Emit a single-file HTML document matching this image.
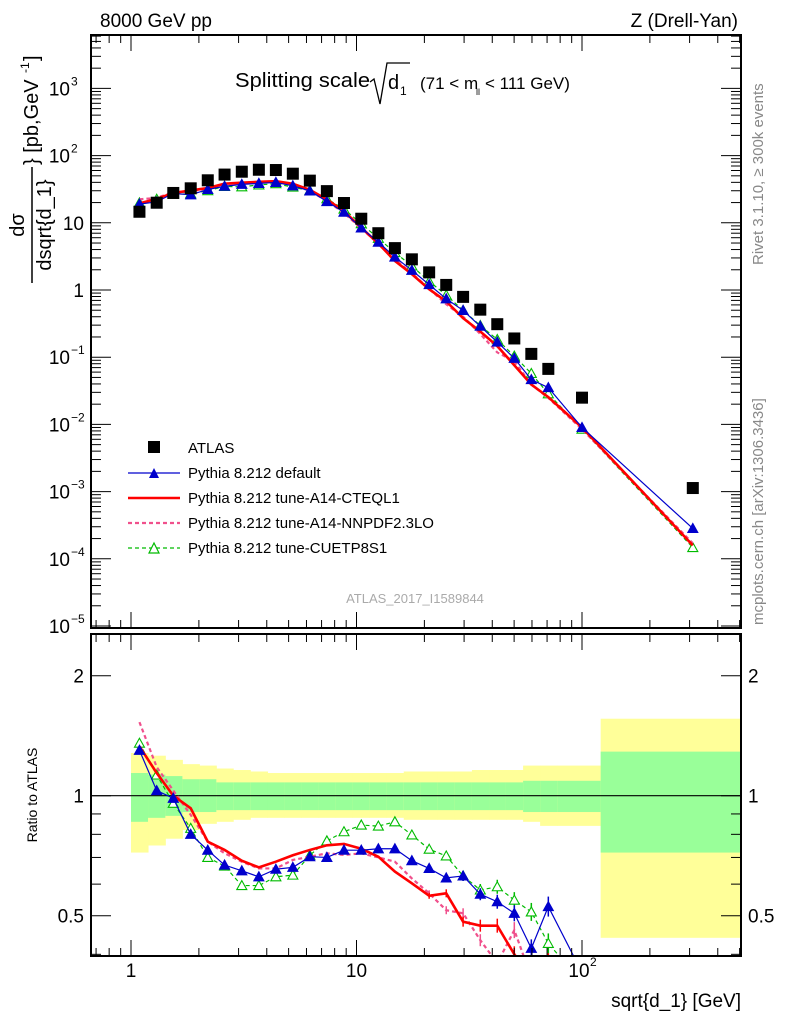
<!DOCTYPE html>
<html><head><meta charset="utf-8"><style>
html,body{margin:0;padding:0;background:#fff;overflow:hidden;width:786px;height:1024px;}
svg{display:block;font-family:"Liberation Sans","DejaVu Sans",sans-serif;overflow:hidden;}
</style></head><body>
<svg id="c" width="786" height="1024" viewBox="0 0 786 1024" xmlns="http://www.w3.org/2000/svg">
<text x="100" y="27" font-size="19">8000 GeV pp</text>
<text x="738" y="27" font-size="19" text-anchor="end">Z (Drell-Yan)</text>
<text transform="translate(763,265) rotate(-90)" font-size="15" fill="#888">Rivet 3.1.10, ≥ 300k events</text>
<text transform="translate(763,625) rotate(-90)" font-size="15" fill="#888">mcplots.cern.ch [arXiv:1306.3436]</text>
<g>
<text x="235" y="87" font-size="20" textLength="135" lengthAdjust="spacingAndGlyphs">Splitting scale</text>
<path d="M370,82 L374,79 L380,104 L387,63 L410,63" fill="none" stroke="#000" stroke-width="1.3"/>
<text x="388" y="89" font-size="20">d</text><text x="400" y="95" font-size="12">1</text>
<text x="420" y="89" font-size="17">(71 &lt; m</text><text x="476" y="95" font-size="9">ll</text><text x="485" y="89" font-size="17">&lt; 111 GeV)</text>
</g>
<g transform="translate(32,225) rotate(-90)">
<text x="0" y="-8" font-size="20" text-anchor="middle">dσ</text>
<line x1="-58" y1="0" x2="58" y2="0" stroke="#000" stroke-width="1.5"/>
<text x="0" y="19" font-size="20" text-anchor="middle">dsqrt{d_1}</text>
<text x="60" y="6" font-size="20">} [pb,GeV</text><text x="152" y="-3" font-size="12">-1</text><text x="164" y="6" font-size="20">]</text>
</g>
<text transform="translate(37,795) rotate(-90)" font-size="14" text-anchor="middle">Ratio to ATLAS</text>
<text x="741" y="1007" font-size="19" text-anchor="end">sqrt{d_1} [GeV]</text>
<text x="415" y="603" font-size="13" fill="#aaa" text-anchor="middle">ATLAS_2017_I1589844</text>
<g id="gU"></g><g id="gL"></g><g id="gAx"></g>
<g>
<rect x="148" y="441" width="12" height="12" fill="#000"/>
<text x="188" y="453" font-size="15">ATLAS</text>
<line x1="128" y1="473" x2="180" y2="473" stroke="#00c" stroke-width="1.2"/><path d="M149,478 L154,468 L159,478Z" fill="#00c"/>
<text x="188" y="478" font-size="15">Pythia 8.212 default</text>
<line x1="128" y1="498" x2="180" y2="498" stroke="#f00" stroke-width="2.6"/>
<text x="188" y="503" font-size="15">Pythia 8.212 tune-A14-CTEQL1</text>
<line x1="128" y1="523" x2="180" y2="523" stroke="#f0508c" stroke-width="2.2" stroke-dasharray="4,3"/>
<text x="188" y="528" font-size="15">Pythia 8.212 tune-A14-NNPDF2.3LO</text>
<line x1="128" y1="548" x2="180" y2="548" stroke="#0b0" stroke-width="1.2" stroke-dasharray="4,3"/><path d="M149,553 L154,543 L159,553Z" fill="#fff" stroke="#0b0" stroke-width="1.2"/>
<text x="188" y="553" font-size="15">Pythia 8.212 tune-CUETP8S1</text>
</g>
</svg>
<script>
const xPts=[1.09,1.30,1.54,1.84,2.19,2.60,3.10,3.69,4.39,5.22,6.21,7.39,8.80,10.5,12.5,14.8,17.6,21.0,25.0,29.7,35.4,42.1,50.1,59.6,70.9,100,310];
const binEdges=[1,1.19,1.42,1.69,2.01,2.39,2.84,3.38,4.03,4.79,5.70,6.79,8.08,9.61,11.4,13.6,16.2,19.3,22.9,27.3,32.5,38.7,46.0,54.8,65.2,77.6,121,600];
const atlas=[14.6,19.9,27.8,32.6,42.9,52.2,57.6,61.6,61,53.8,42.4,29.6,19.7,11.5,7.0,4.2,2.86,1.83,1.19,0.79,0.51,0.31,0.19,0.112,0.067,0.025,0.00113];
const ratioDefault=[1.30,1.03,0.985,0.80,0.73,0.67,0.648,0.626,0.654,0.661,0.703,0.70,0.73,0.73,0.736,0.736,0.687,0.657,0.622,0.629,0.566,0.542,0.507,0.414,0.527,0.36,0.25];
const ratioCteq=[1.33,1.14,1.0,0.93,0.767,0.731,0.687,0.661,0.683,0.709,0.731,0.751,0.757,0.736,0.703,0.645,0.603,0.561,0.569,0.483,0.472,0.472,0.40,0.35,0.38,0.36,0.14];
const ratioNnpdf=[1.53,1.18,1.03,0.895,0.767,0.717,0.683,0.657,0.657,0.69,0.703,0.717,0.71,0.717,0.70,0.683,0.62,0.569,0.516,0.507,0.434,0.38,0.46,0.35,0.37,0.34,0.15];
const ratioCuetp=[1.354,1.127,0.957,0.828,0.70,0.666,0.595,0.595,0.626,0.632,0.709,0.77,0.812,0.844,0.839,0.86,0.797,0.734,0.706,0.629,0.58,0.591,0.547,0.511,0.426,0.34,0.13];
const yellowHi=[1.28,1.26,1.23,1.20,1.19,1.17,1.16,1.15,1.14,1.14,1.14,1.14,1.14,1.14,1.14,1.14,1.15,1.15,1.15,1.15,1.16,1.16,1.16,1.19,1.19,1.19,1.56];
const yellowLo=[0.72,0.75,0.78,0.82,0.85,0.86,0.87,0.88,0.88,0.88,0.88,0.88,0.88,0.88,0.88,0.88,0.87,0.87,0.87,0.87,0.87,0.87,0.87,0.86,0.84,0.84,0.44];
const greenHi=[1.14,1.13,1.12,1.10,1.10,1.08,1.08,1.08,1.08,1.08,1.08,1.08,1.08,1.08,1.08,1.08,1.08,1.08,1.08,1.08,1.08,1.08,1.08,1.09,1.09,1.09,1.29];
const greenLo=[0.86,0.88,0.89,0.91,0.91,0.92,0.92,0.92,0.92,0.92,0.92,0.92,0.92,0.92,0.92,0.92,0.92,0.92,0.92,0.92,0.92,0.92,0.92,0.91,0.91,0.91,0.72];
const NS='http://www.w3.org/2000/svg';
const L=91,R=741,UT=35,UB=628,LT=634,LB=956;
const X=v=>131+225.5*Math.log10(v);
const YU=v=>290-67.2*Math.log10(v);
const YL=v=>795.7-398.6*Math.log10(v);
function mk(p,tag,a){const e=document.createElementNS(NS,tag);for(const k in a)e.setAttribute(k,a[k]);p.appendChild(e);return e;}
const gU=document.getElementById('gU'),gL=document.getElementById('gL'),gA=document.getElementById('gAx');
const defs=mk(document.getElementById('c'),'defs',{});
const cu=mk(defs,'clipPath',{id:'cu'});mk(cu,'rect',{x:L,y:UT,width:R-L,height:UB-UT});
const cl=mk(defs,'clipPath',{id:'cl'});mk(cl,'rect',{x:L,y:LT,width:R-L,height:LB-LT});
gU.setAttribute('clip-path','url(#cu)');gL.setAttribute('clip-path','url(#cl)');
for(let i=0;i<yellowHi.length;i++){
 const x0=X(binEdges[i]),x1=Math.min(X(binEdges[i+1]),R);
 const y=mk(gL,'rect',{x:x0,y:YL(yellowHi[i]),width:x1-x0+0.5,height:YL(yellowLo[i])-YL(yellowHi[i]),fill:'#ffff99'});
 
 
 const g=mk(gL,'rect',{x:x0,y:YL(greenHi[i]),width:x1-x0+0.5,height:YL(greenLo[i])-YL(greenHi[i]),fill:'#99ff99'});
 
 
}
mk(gL,'line',{x1:L,x2:R,y1:YL(1),y2:YL(1),stroke:'#000','stroke-width':1.2});
const series=[
 {r:ratioCuetp,c:'#0b0',w:1.2,d:'4,3',m:'open',n:'cuetp8s1'},
 {r:ratioNnpdf,c:'#f0508c',w:2.2,d:'4,3',m:'none',n:'a14-nnpdf'},
 {r:ratioCteq,c:'#f00',w:2.6,d:'',m:'none',n:'a14-cteql1'},
 {r:ratioDefault,c:'#00c',w:1.2,d:'',m:'fill',n:'default'}];
function tri(p,x,y,s){return mk(p,'path',{d:`M${x-5},${y+4}L${x},${y-5}L${x+5},${y+4}Z`,fill:s.m=='fill'?s.c:'#fff',stroke:s.c,'stroke-width':1.1});}
for(const s of series){
 const up=xPts.map((x,i)=>[X(x),YU(atlas[i]*s.r[i])]);
 const lo=xPts.map((x,i)=>[X(x),YL(s.r[i])]);
 const a={fill:'none',stroke:s.c,'stroke-width':s.w};if(s.d)a['stroke-dasharray']=s.d;
 const pu=mk(gU,'polyline',Object.assign({points:up.map(p=>p.join(',')).join(' ')},a));
 
 
 const pl=mk(gL,'polyline',Object.assign({points:lo.map(p=>p.join(',')).join(' ')},a));
 
 
 lo.forEach((p,i)=>{if(i>=17&&i<25){mk(gL,'line',{x1:p[0],x2:p[0],y1:p[1]-(i-14),y2:p[1]+(i-14),stroke:s.c,'stroke-width':1.5});}});
 if(s.m!='none'){up.forEach(p=>{const t=tri(gU,p[0],p[1],s);});
  lo.forEach(p=>{const t=tri(gL,p[0],p[1],s);});}
}
xPts.forEach((x,i)=>{const r=mk(gU,'rect',{x:X(x)-6,y:YU(atlas[i])-6,width:12,height:12,fill:'#000'});
 
 });
for(const [t,b] of [[UT,UB],[LT,LB]]) mk(gA,'rect',{x:L,y:t,width:R-L,height:b-t,fill:'none',stroke:'#000','stroke-width':2});
const xt=[0.7,0.8,0.9];for(let d=0;d<=2;d++)for(let k=1;k<10;k++)xt.push(k*Math.pow(10,d));
for(const v of xt){const xx=X(v);if(xx<L||xx>R)continue;const len=(Math.abs(Math.log10(v)%1)<1e-9)?16:8;
 for(const [t,b] of [[UT,UB],[LT,LB]]){mk(gA,'line',{x1:xx,x2:xx,y1:t,y2:t+len,stroke:'#000','stroke-width':1});mk(gA,'line',{x1:xx,x2:xx,y1:b,y2:b-len,stroke:'#000','stroke-width':1});}}
const xl=mk(gA,'text',{x:X(1),y:977,'font-size':19,'text-anchor':'middle'});xl.textContent='1';
const xl2=mk(gA,'text',{x:X(10),y:977,'font-size':19,'text-anchor':'middle'});xl2.textContent='10';
const xl3=mk(gA,'text',{x:X(100)-3,y:977,'font-size':19,'text-anchor':'middle'});xl3.textContent='10';
const xl4=mk(gA,'text',{x:X(100)+8,y:966,'font-size':12});xl4.textContent='2';
for(let e=-5;e<=3;e++){for(let k=1;k<10;k++){const v=k*Math.pow(10,e);const y=YU(v);if(y<UT||y>UB)continue;const len=k==1?20:10;
 mk(gA,'line',{x1:L,x2:L+len,y1:y,y2:y,stroke:'#000'});mk(gA,'line',{x1:R,x2:R-len,y1:y,y2:y,stroke:'#000'});}
 const y=YU(Math.pow(10,e));let t;
 if(e==0){t=mk(gA,'text',{x:84,y:y+7,'font-size':19,'text-anchor':'end'});t.textContent='1';}
 else if(e==1){t=mk(gA,'text',{x:84,y:y+7,'font-size':19,'text-anchor':'end'});t.textContent='10';}
 else {t=mk(gA,'text',{x:70,y:y+7,'font-size':19,'text-anchor':'end'});t.textContent='10';const s=mk(gA,'text',{x:71,y:y-3,'font-size':12});s.textContent=e>0?String(e):'−'+(-e);}
}
for(const v of [0.4,0.5,0.6,0.7,0.8,0.9,1,2]){const y=YL(v);const len=(v==1||v==2||v==0.5)?20:10;
 mk(gA,'line',{x1:L,x2:L+len,y1:y,y2:y,stroke:'#000'});mk(gA,'line',{x1:R,x2:R-len,y1:y,y2:y,stroke:'#000'});}
for(const [v,s] of [[2,'2'],[1,'1'],[0.5,'0.5']]){const y=YL(v);
 const a=mk(gA,'text',{x:84,y:y+7,'font-size':19,'text-anchor':'end'});a.textContent=s;
 const b=mk(gA,'text',{x:748,y:y+7,'font-size':19});b.textContent=s;}
</script>
</body></html>
